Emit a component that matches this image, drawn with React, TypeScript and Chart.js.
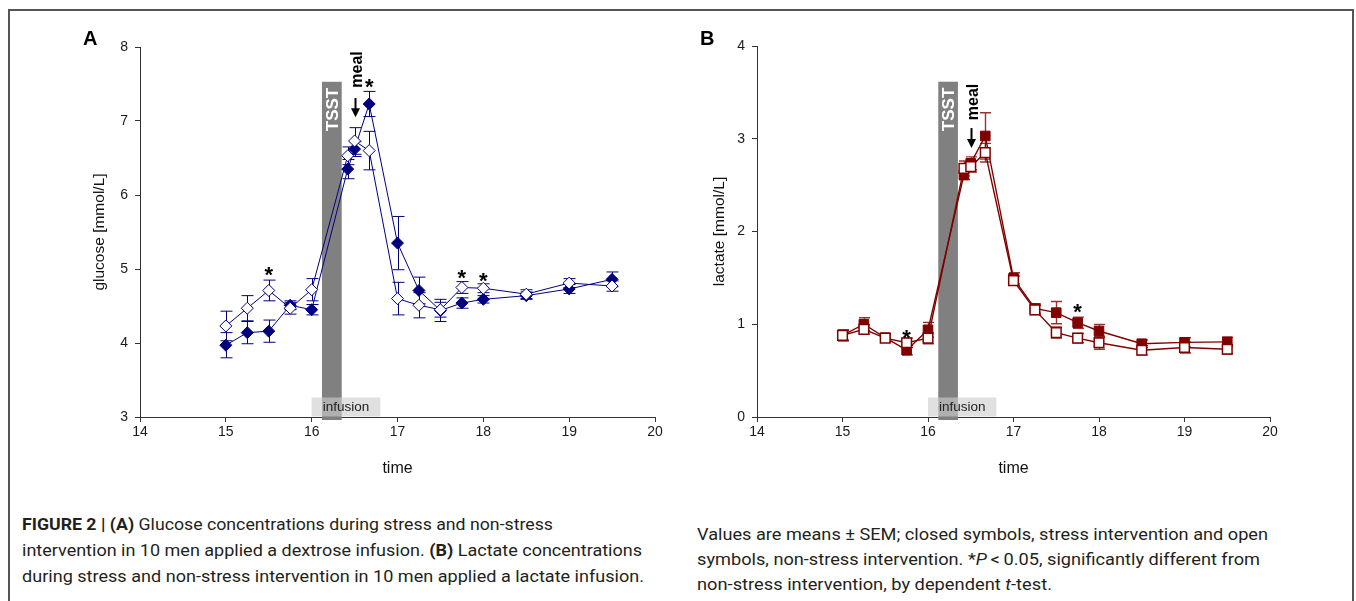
import React, { useEffect, useLayoutEffect, useRef } from 'react';
import { Chart, registerables } from 'chart.js';

Chart.register(...registerables);

const FONT = '"Liberation Sans", Arial, Helvetica, sans-serif';
const CAPTION_FONT = 'Roboto, "Liberation Sans", Arial, sans-serif';

// ---------------- data ----------------
const times = [15, 15.25, 15.5, 15.75, 16, 16.42, 16.5, 16.67, 17, 17.25, 17.5, 17.75, 18, 18.5, 19, 19.5];
const xTicks = [14, 15, 16, 17, 18, 19, 20];
const glucoseTicks = [3, 4, 5, 6, 7, 8];
const lactateTicks = [0, 1, 2, 3, 4];

// glucose (panel A): closed = stress, open = non-stress
const glucoseStress = [3.97, 4.14, 4.16, 4.51, 4.45, 6.35, 6.62, 7.23, 5.35, 4.71, 4.44, 4.54, 4.59, 4.64, 4.73, 4.86];
const glucoseStressSem = [0.17, 0.15, 0.15, 0.06, 0.07, 0.13, 0.1, 0.17, 0.36, 0.18, 0.15, 0.07, 0.05, 0.05, 0.06, 0.1];
const glucoseControl = [4.23, 4.47, 4.71, 4.47, 4.72, 6.53, 6.73, 6.6, 4.6, 4.51, 4.45, 4.75, 4.74, 4.66, 4.81, 4.77];
const glucoseControlSem = [0.2, 0.17, 0.14, 0.08, 0.15, 0.12, 0.18, 0.26, 0.22, 0.17, 0.1, 0.08, 0.06, 0.06, 0.06, 0.07];
const glucoseStarTimes = [15.5, 16.67, 17.75, 18];
const glucoseStarLevels = [4.99, 7.53, 4.95, 4.9];

// lactate (panel B)
const lactateStress = [0.88, 1.0, 0.855, 0.72, 0.94, 2.61, 2.735, 3.03, 1.495, 1.17, 1.125, 1.017, 0.927, 0.79, 0.805, 0.81];
const lactateStressSem = [0.05, 0.07, 0.04, 0.05, 0.08, 0.05, 0.07, 0.25, 0.06, 0.05, 0.12, 0.06, 0.07, 0.04, 0.05, 0.05];
const lactateControl = [0.88, 0.945, 0.85, 0.8, 0.85, 2.68, 2.7, 2.85, 1.47, 1.155, 0.91, 0.85, 0.8, 0.72, 0.75, 0.73];
const lactateControlSem = [0.06, 0.05, 0.04, 0.05, 0.06, 0.08, 0.06, 0.1, 0.05, 0.05, 0.06, 0.05, 0.07, 0.05, 0.06, 0.05];
const lactateStarTimes = [15.75, 17.75];
const lactateStarLevels = [0.91, 1.19];

// events
const tsstPeriod = [16.12, 16.35];
const infusionPeriod = [16.0, 16.8];
const mealTime = 16.5;
const glucoseTsstTop = 7.53;
const lactateTsstTop = 3.615;
const glucoseMeal = [7.45, 7.31, 7.05]; // text start, arrow top, arrow tip
const lactateMeal = [3.2, 3.115, 2.9];

interface PanelSpec {
  letter: string;
  letterPos: [number, number];
  yTitle: string;
  yTicks: number[];
  color: string;
  errColor: string;
  pointStyle: string;
  pointRadius: number;
  lineWidth: number;
  openBorder: number;
  cap: number;
  errWidth: number;
  closed: number[];
  closedSem: number[];
  open: number[];
  openSem: number[];
  starTimes: number[];
  starLevels: number[];
  tsstTop: number;
  meal: number[];
  left: number;
  width: number;
  height: number;
  yAxisWidth: number;
  padRight: number;
  padTop: number;
  yTitlePad: number;
}

function makePlugin(spec: PanelSpec) {
  return {
    id: 'annotations' + spec.letter,
    beforeDatasetsDraw(chart: any) {
      const { ctx, chartArea } = chart;
      const x = chart.scales.x;
      const y = chart.scales.y;
      ctx.save();
      // TSST bar
      const x0 = x.getPixelForValue(tsstPeriod[0]);
      const x1 = x.getPixelForValue(tsstPeriod[1]);
      const yt = y.getPixelForValue(spec.tsstTop);
      ctx.fillStyle = '#808080';
      ctx.fillRect(x0, yt, x1 - x0, chartArea.bottom - yt + 3);
      // TSST text
      ctx.save();
      ctx.translate((x0 + x1) / 2 + 6, yt + 6);
      ctx.rotate(-Math.PI / 2);
      ctx.fillStyle = '#ffffff';
      ctx.font = `bold 17px ${FONT}`;
      ctx.textAlign = 'right';
      ctx.textBaseline = 'alphabetic';
      ctx.fillText('TSST', 0, 0);
      ctx.restore();

      // error bars
      const drawErr = (vals: number[], sems: number[]) => {
        ctx.strokeStyle = spec.errColor;
        ctx.lineWidth = spec.errWidth;
        times.forEach((t, i) => {
          const px = Math.round(x.getPixelForValue(t)) + 0.5;
          const yHi = y.getPixelForValue(vals[i] + sems[i]);
          const yLo = y.getPixelForValue(vals[i] - sems[i]);
          ctx.beginPath();
          ctx.moveTo(px, yHi);
          ctx.lineTo(px, yLo);
          ctx.moveTo(px - spec.cap, yHi);
          ctx.lineTo(px + spec.cap, yHi);
          ctx.moveTo(px - spec.cap, yLo);
          ctx.lineTo(px + spec.cap, yLo);
          ctx.stroke();
        });
      };
      drawErr(spec.closed, spec.closedSem);
      drawErr(spec.open, spec.openSem);
      ctx.restore();
    },
    afterDatasetsDraw(chart: any) {
      const { ctx, chartArea } = chart;
      const x = chart.scales.x;
      const y = chart.scales.y;
      ctx.save();
      // infusion box
      const b0 = x.getPixelForValue(infusionPeriod[0]);
      const b1 = x.getPixelForValue(infusionPeriod[1]);
      ctx.fillStyle = 'rgba(205,205,205,0.62)';
      ctx.fillRect(b0, chartArea.bottom - 19.5, b1 - b0, 19);
      ctx.fillStyle = '#222';
      ctx.font = `13.5px ${FONT}`;
      ctx.textAlign = 'center';
      ctx.textBaseline = 'middle';
      ctx.fillText('infusion', (b0 + b1) / 2, chartArea.bottom - 9.5);

      // stars
      ctx.fillStyle = '#000';
      ctx.font = `bold 22px ${FONT}`;
      ctx.textAlign = 'center';
      ctx.textBaseline = 'alphabetic';
      spec.starTimes.forEach((t, i) => {
        ctx.fillText('*', x.getPixelForValue(t), y.getPixelForValue(spec.starLevels[i]) + 12);
      });

      // meal label + arrow
      const ax = Math.round(x.getPixelForValue(mealTime)) + 0.5;
      ctx.save();
      ctx.translate(ax + 6, y.getPixelForValue(spec.meal[0]));
      ctx.rotate(-Math.PI / 2);
      ctx.font = `bold 16px ${FONT}`;
      ctx.textAlign = 'left';
      ctx.fillText('meal', 0, 0);
      ctx.restore();
      const yTop = y.getPixelForValue(spec.meal[1]);
      const yTip = y.getPixelForValue(spec.meal[2]);
      ctx.strokeStyle = '#000';
      ctx.lineWidth = 2;
      ctx.beginPath();
      ctx.moveTo(ax, yTop);
      ctx.lineTo(ax, yTip - 6);
      ctx.stroke();
      ctx.beginPath();
      ctx.moveTo(ax - 4.5, yTip - 9);
      ctx.lineTo(ax + 4.5, yTip - 9);
      ctx.lineTo(ax, yTip);
      ctx.closePath();
      ctx.fill();

      // panel letter
      ctx.font = `bold 20px ${FONT}`;
      ctx.textAlign = 'left';
      ctx.fillText(spec.letter, spec.letterPos[0], spec.letterPos[1]);
      ctx.restore();
    },
  };
}

function Panel({ spec }: { spec: PanelSpec }) {
  const ref = useRef<HTMLCanvasElement>(null);
  useEffect(() => {
    if (!ref.current) return;
    const mk = (vals: number[]) => times.map((t, i) => ({ x: t, y: vals[i] }));
    const chart = new Chart(ref.current, {
      type: 'line',
      data: {
        datasets: [
          {
            label: 'non-stress',
            data: mk(spec.open),
            borderColor: spec.color,
            borderWidth: spec.lineWidth,
            pointStyle: spec.pointStyle as any,
            pointRadius: spec.pointRadius,
            pointBackgroundColor: '#ffffff',
            pointBorderColor: spec.color,
            pointBorderWidth: spec.openBorder,
            tension: 0,
            fill: false,
          },
          {
            label: 'stress',
            data: mk(spec.closed),
            borderColor: spec.color,
            borderWidth: spec.lineWidth,
            pointStyle: spec.pointStyle as any,
            pointRadius: spec.pointRadius,
            pointBackgroundColor: spec.color,
            pointBorderColor: spec.color,
            pointBorderWidth: 1,
            tension: 0,
            fill: false,
          },
        ],
      },
      options: {
        animation: false,
        responsive: false,
        events: [],
        layout: { padding: { left: 0, right: spec.padRight, top: spec.padTop, bottom: 0 } },
        plugins: { legend: { display: false }, tooltip: { enabled: false } },
        scales: {
          x: {
            type: 'linear',
            min: xTicks[0],
            max: xTicks[xTicks.length - 1],
            afterBuildTicks: (s: any) => {
              s.ticks = xTicks.map((v) => ({ value: v }));
            },
            afterFit: (s: any) => {
              s.height = 73;
            },
            ticks: {
              color: '#1a1a1a',
              font: { family: FONT, size: 14 },
              padding: 2,
              maxRotation: 0,
              autoSkip: false,
            },
            grid: { drawOnChartArea: false, drawTicks: true, tickLength: 5, color: '#333' },
            border: { display: true, color: '#333', width: 1 },
            title: {
              display: true,
              text: 'time',
              color: '#111',
              font: { family: FONT, size: 16 },
              padding: { top: 0, bottom: 12 },
            },
          },
          y: {
            type: 'linear',
            min: spec.yTicks[0],
            max: spec.yTicks[spec.yTicks.length - 1],
            afterBuildTicks: (s: any) => {
              s.ticks = spec.yTicks.map((v) => ({ value: v }));
            },
            afterFit: (s: any) => {
              s.width = spec.yAxisWidth;
            },
            ticks: { color: '#1a1a1a', font: { family: FONT, size: 14 }, padding: 7 },
            grid: { drawOnChartArea: false, drawTicks: true, tickLength: 5, color: '#333' },
            border: { display: true, color: '#333', width: 1 },
            title: {
              display: true,
              text: spec.yTitle,
              color: '#111',
              font: { family: FONT, size: 15.5 },
              padding: { top: spec.yTitlePad, bottom: 0 },
            },
          },
        },
      } as any,
      plugins: [makePlugin(spec)],
    });
    return () => chart.destroy();
  }, [spec]);
  return (
    <canvas
      ref={ref}
      width={spec.width}
      height={spec.height}
      style={{ position: 'absolute', left: spec.left, top: 20, width: spec.width, height: spec.height }}
    />
  );
}

const panelA: PanelSpec = {
  letter: 'A',
  letterPos: [63, 25],
  yTitle: 'glucose [mmol/L]',
  yTicks: glucoseTicks,
  color: '#00007f',
  errColor: '#00007f',
  pointStyle: 'rectRot',
  pointRadius: 6,
  lineWidth: 1,
  openBorder: 1,
  cap: 6,
  errWidth: 1,
  closed: glucoseStress,
  closedSem: glucoseStressSem,
  open: glucoseControl,
  openSem: glucoseControlSem,
  starTimes: glucoseStarTimes,
  starLevels: glucoseStarLevels,
  tsstTop: glucoseTsstTop,
  meal: glucoseMeal,
  left: 20,
  width: 680,
  height: 470,
  yAxisWidth: 120,
  padRight: 45,
  padTop: 27,
  yTitlePad: 70,
};

const panelB: PanelSpec = {
  letter: 'B',
  letterPos: [10, 25],
  yTitle: 'lactate [mmol/L]',
  yTicks: lactateTicks,
  color: '#800000',
  errColor: 'rgba(128,0,0,0.8)',
  pointStyle: 'rect',
  pointRadius: 6.8,
  lineWidth: 1.4,
  openBorder: 1.5,
  cap: 5.5,
  errWidth: 1.4,
  closed: lactateStress,
  closedSem: lactateStressSem,
  open: lactateControl,
  openSem: lactateControlSem,
  starTimes: lactateStarTimes,
  starLevels: lactateStarLevels,
  tsstTop: lactateTsstTop,
  meal: lactateMeal,
  left: 690,
  width: 660,
  height: 470,
  yAxisWidth: 67,
  padRight: 80,
  padTop: 26,
  yTitlePad: 20,
};

function FitLine({ left, top, width, children }: { left: number; top: number; width: number; children: React.ReactNode }) {
  const ref = useRef<HTMLSpanElement>(null);
  useLayoutEffect(() => {
    const el = ref.current;
    if (!el) return;
    el.style.transform = 'none';
    const w = el.getBoundingClientRect().width;
    if (w > 0) el.style.transform = `scaleX(${width / w})`;
  }, [width]);
  return (
    <span
      ref={ref}
      style={{
        position: 'absolute',
        left,
        top,
        whiteSpace: 'nowrap',
        display: 'inline-block',
        transformOrigin: '0 0',
        fontFamily: CAPTION_FONT,
        fontSize: 17,
        lineHeight: '26px',
        color: '#231f20',
      }}
    >
      {children}
    </span>
  );
}

export default function App() {
  return (
    <div
      style={{
        position: 'fixed',
        left: 0,
        top: 0,
        width: 1356,
        height: 601,
        overflow: 'hidden',
        background: '#ffffff',
      }}
    >
      <div
        style={{
          position: 'absolute',
          left: 8,
          top: 9,
          width: 1346,
          height: 700,
          borderTop: '2px solid #555',
          borderLeft: '2px solid #555',
          borderRight: '2px solid #555',
          boxSizing: 'border-box',
        }}
      />
      <Panel spec={panelA} />
      <Panel spec={panelB} />
      <FitLine left={22} top={511} width={531}>
        <b>FIGURE 2 | (A)</b> Glucose concentrations during stress and non-stress
      </FitLine>
      <FitLine left={22} top={537} width={620}>
        intervention in 10 men applied a dextrose infusion. <b>(B)</b> Lactate concentrations
      </FitLine>
      <FitLine left={22} top={563} width={622}>
        during stress and non-stress intervention in 10 men applied a lactate infusion.
      </FitLine>
      <FitLine left={697} top={521} width={571}>
        Values are means ± SEM; closed symbols, stress intervention and open
      </FitLine>
      <FitLine left={697} top={546} width={563}>
        symbols, non-stress intervention. *<i>P</i>&thinsp;&lt;&thinsp;0.05, significantly different from
      </FitLine>
      <FitLine left={697} top={571} width={355}>
        non-stress intervention, by dependent <i>t</i>-test.
      </FitLine>
    </div>
  );
}
